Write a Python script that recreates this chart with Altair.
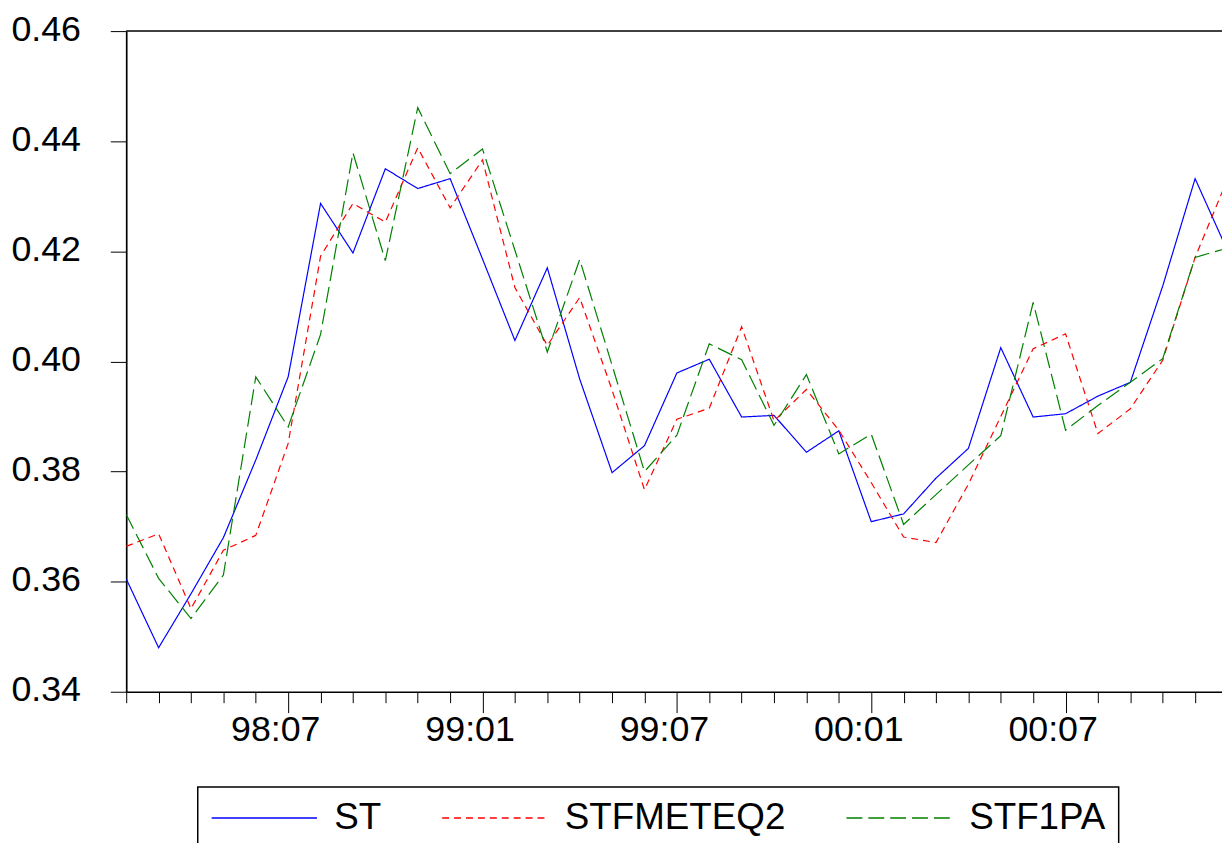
import json
import altair as alt
import pandas as pd

months = ["98:02", "98:03", "98:04", "98:05", "98:06", "98:07", "98:08", "98:09",
          "98:10", "98:11", "98:12", "99:01", "99:02", "99:03", "99:04", "99:05",
          "99:06", "99:07", "99:08", "99:09", "99:10", "99:11", "99:12", "00:01",
          "00:02", "00:03", "00:04", "00:05", "00:06", "00:07", "00:08", "00:09",
          "00:10", "00:11", "00:12"]

st = [0.3605, 0.3480, 0.3578, 0.3680, 0.3821, 0.3972, 0.4287, 0.4197, 0.4350,
      0.4314, 0.4332, 0.4186, 0.4038, 0.4170, 0.3968, 0.3798, 0.3847, 0.3979,
      0.4004, 0.3899, 0.3902, 0.3835, 0.3874, 0.3709, 0.3723, 0.3788, 0.3842,
      0.4025, 0.3899, 0.3905, 0.3937, 0.3962, 0.4137, 0.4332, 0.4201]

stfmeteq2 = [0.3664, 0.3687, 0.3551, 0.3657, 0.3684, 0.3851, 0.4191, 0.4287, 0.4253,
             0.4388, 0.4279, 0.4366, 0.4134, 0.4029, 0.4116, 0.3948, 0.3767, 0.3895,
             0.3915, 0.4063, 0.3892, 0.3949, 0.3875, 0.3780, 0.3681, 0.3671, 0.3777,
             0.3900, 0.4023, 0.4050, 0.3869, 0.3914, 0.4002, 0.4189, 0.4331]

stf1pa = [0.3722, 0.3606, 0.3533, 0.3612, 0.3972, 0.3881, 0.4049, 0.4379, 0.4183,
          0.4461, 0.4341, 0.4386, 0.4202, 0.4017, 0.4185, 0.3993, 0.3800, 0.3866,
          0.4032, 0.4003, 0.3884, 0.3976, 0.3832, 0.3868, 0.3704, 0.3758, 0.3812,
          0.3865, 0.4107, 0.3875, 0.3920, 0.3962, 0.4005, 0.4189, 0.4206]

series_names = ["ST", "STFMETEQ2", "STF1PA"]
series_colors = ["#0000ff", "#ff0000", "#008000"]
series_dashes = [[1, 0], [7, 5], [16, 6]]
y_ticks = [0.34, 0.36, 0.38, 0.40, 0.42, 0.44, 0.46]
major_labels = ["98:07", "99:01", "99:07", "00:01", "00:07"]

rows = []
for name, vals in zip(series_names, [st, stfmeteq2, stf1pa]):
    for i, v in enumerate(vals):
        rows.append({"idx": i, "month": months[i], "series": name, "value": v})
df = pd.DataFrame(rows)

major_idx = [months.index(m) for m in major_labels]
is_major = f"indexof({json.dumps(major_idx)}, datum.value) >= 0"
label_expr = f"{is_major} ? {json.dumps(months)}[datum.value] : ''"

FONT = "Liberation Sans"

x_axis = alt.Axis(
    values=list(range(34)),
    labelExpr=label_expr,
    tickSize={"condition": {"test": is_major, "value": 21}, "value": 11},
    tickColor="black",
    tickWidth=1,
    domainColor="black",
    domainWidth=1.7,
    labelPadding=0,
    labelOffset=-13,
    labelFont=FONT,
    labelFontSize=36,
    labelColor="black",
    labelFlush=False,
    labelOverlap=False,
    grid=False,
)

y_axis = alt.Axis(
    values=y_ticks,
    format=".2f",
    tickSize=16,
    tickColor="black",
    tickWidth=1,
    domainColor="black",
    domainWidth=1.7,
    labelPadding=30,
    labelOffset=-2,
    labelFont=FONT,
    labelFontSize=36,
    labelColor="black",
    grid=False,
)

legend = alt.Legend(
    orient="none",
    legendX=72,
    legendY=761,
    direction="horizontal",
    title=None,
    symbolType="stroke",
    symbolSize=11236,
    symbolStrokeWidth=1.5,
    labelFont=FONT,
    labelFontSize=37,
    labelColor="black",
    labelOffset=16.5,
    labelLimit=400,
    columnPadding=60,
    padding=13,
    clipHeight=36,
    strokeColor="black",
)

lines = alt.Chart(df).mark_line(strokeWidth=1.2, clip=True).encode(
    x=alt.X("idx:Q", title=None,
            scale=alt.Scale(domain=[0, 33.83], nice=False, zero=False),
            axis=x_axis),
    y=alt.Y("value:Q", title=None,
            scale=alt.Scale(domain=[y_ticks[0], y_ticks[-1]], nice=False, zero=False),
            axis=y_axis),
    color=alt.Color("series:N",
                    scale=alt.Scale(domain=series_names, range=series_colors),
                    sort=series_names, legend=legend),
    strokeDash=alt.StrokeDash("series:N",
                              scale=alt.Scale(domain=series_names, range=series_dashes),
                              sort=series_names, legend=legend),
    detail="series:N",
)

top_rule = alt.Chart(pd.DataFrame({"v": [y_ticks[-1]]})).mark_rule(
    color="black", strokeWidth=1.5
).encode(y=alt.Y("v:Q", title=None))

chart = alt.layer(top_rule, lines).properties(
    width=1103,
    height=665,
    autosize=alt.AutoSizeParams(type="none"),
    padding={"left": 119, "top": 20.5, "right": 0, "bottom": 149.5},
).configure_view(strokeWidth=0).configure_legend(strokeWidth=1.5)

chart.save("out.html", embed_options={"renderer": "svg", "actions": False})
